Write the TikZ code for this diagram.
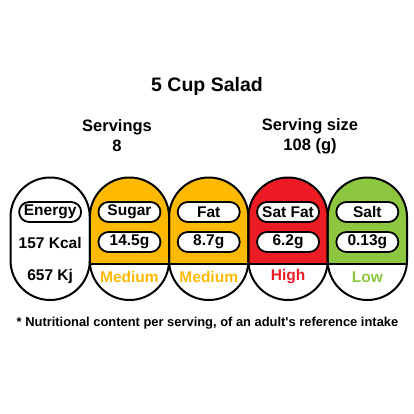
\documentclass[tikz,border=0pt]{standalone}
\usepackage{fontspec}
\setmainfont{Liberation Sans}
\newfontfamily\notefont{Liberation Sans}
\definecolor{amber}{RGB}{253,185,0}
\definecolor{highred}{RGB}{237,28,36}
\definecolor{lowgreen}{RGB}{141,198,63}

\begin{document}
\begin{tikzpicture}[x=1pt,y=-1pt,font=\bfseries\fontsize{15.5}{18}\selectfont,
	pill/.style={draw,line width=1.8pt,fill=white,rounded corners=10pt,
		minimum width=62pt,minimum height=20pt,inner sep=0pt},
	capsule/.style={draw,line width=2pt,rounded corners=39.6pt}]
	\useasboundingbox (0,0) rectangle (414,414);

	\node (title) at (207,86) {\fontsize{19.5}{22}\selectfont 5 Cup Salad};
	\node[align=center,font=\bfseries\fontsize{16.5}{20}\selectfont] (servings) at (117,136) {Servings\\8};
	\node[align=center,font=\bfseries\fontsize{16.5}{20}\selectfont] (size) at (310,136) {Serving size\\108 (g)};

	% coloured tops
	\begin{scope}
		\clip[rounded corners=39.6pt] (89.8,177.5) rectangle (169.1,300);
		\fill[amber] (89.8,177.5) rectangle (169.1,264);
	\end{scope}
	\begin{scope}
		\clip[rounded corners=39.6pt] (169.1,177.5) rectangle (248.4,300);
		\fill[amber] (169.1,177.5) rectangle (248.4,264);
	\end{scope}
	\begin{scope}
		\clip[rounded corners=39.6pt] (248.4,177.5) rectangle (327.7,300);
		\fill[highred] (248.4,177.5) rectangle (327.7,264);
	\end{scope}
	\begin{scope}
		\clip[rounded corners=39.6pt] (327.7,177.5) rectangle (407,300);
		\fill[lowgreen] (327.7,177.5) rectangle (407,264);
	\end{scope}

	\draw[capsule] (10.5,177.5) rectangle (89.8,300);
	\draw[capsule] (89.8,177.5) rectangle (169.1,300);
	\draw[capsule] (169.1,177.5) rectangle (248.4,300);
	\draw[capsule] (248.4,177.5) rectangle (327.7,300);
	\draw[capsule] (327.7,177.5) rectangle (407,300);
	\draw[line width=2pt] (89.8,264) -- (407,264);

	% energy
	\node[pill] (energy) at (50.15,212) {Energy};
	\node (kcal) at (50.15,243) {157 Kcal};
	\node (kj) at (50.15,276) {657 Kj};

	% sugar
	\node[pill] (sugar) at (129.45,212) {Sugar};
	\node[pill] (sugarval) at (129.45,242) {14.5g};
	\node[text=amber] (sugarlvl) at (129.45,277) {Medium};

	% fat
	\node[pill] (fat) at (208.75,212) {Fat};
	\node[pill] (fatval) at (208.75,242) {8.7g};
	\node[text=amber] (fatlvl) at (208.75,277) {Medium};

	% saturates
	\node[pill] (satfat) at (288.05,212) {Sat Fat};
	\node[pill] (satfatval) at (288.05,242) {6.2g};
	\node[text=highred] (satfatlvl) at (288.05,277) {High};

	% salt
	\node[pill] (salt) at (367.35,212) {Salt};
	\node[pill] (saltval) at (367.35,242) {0.13g};
	\node[text=lowgreen] (saltlvl) at (367.35,277) {Low};

	\node[font=\notefont\bfseries\fontsize{12.9}{15}\selectfont] (note) at (207.5,323)
		{* Nutritional content per serving, of an adult's reference intake};
\end{tikzpicture}
\end{document}
